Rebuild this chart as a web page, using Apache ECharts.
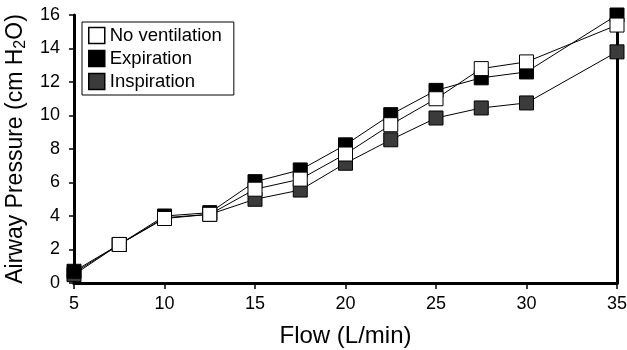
<!DOCTYPE html>
<html>
<head>
<meta charset="utf-8">
<script src="https://cdn.jsdelivr.net/npm/echarts@6/dist/echarts.min.js"></script>
<style>
  html, body { margin: 0; padding: 0; background: #fff; }
  #chart { width: 627px; height: 350px; }
</style>
</head>
<body>
<div id="chart"></div>
<script>
const flow = [5, 7.5, 10, 12.5, 15, 17.5, 20, 22.5, 25, 27.5, 30, 35]
const noVentilation = [0.6, 2.3, 3.85, 4.1, 5.6, 6.2, 7.7, 9.45, 11.0, 12.8, 13.2, 15.4]
const expiration = [0.7, 2.3, 4.0, 4.2, 6.05, 6.75, 8.25, 10.05, 11.5, 12.25, 12.6, 16.0]
const inspiration = [0.5, 2.3, 3.9, 4.1, 5.0, 5.55, 7.15, 8.55, 9.85, 10.45, 10.75, 13.8]
const xTicks = [5, 10, 15, 20, 25, 30, 35]

const font = 'Liberation Sans, Arial, sans-serif'

const chart = echarts.init(document.getElementById('chart'), null, { renderer: 'canvas' })

// white markers sit on top, except at 5 L/min where the black one is the visible one
function pts(values, hideFirst) {
  return flow.map((x, i) =>
    hideFirst && i === 0 ? { value: [x, values[i]], symbol: 'none' } : [x, values[i]]
  )
}

function line(name, values, fill, z, hideFirst) {
  return {
    name,
    type: 'line',
    data: pts(values, hideFirst),
    z,
    symbol: 'rect',
    symbolSize: 14,
    showAllSymbol: true,
    lineStyle: { color: '#000', width: 1 },
    itemStyle: { color: fill, borderColor: '#000', borderWidth: 1 },
    emphasis: { disabled: true },
  }
}

const frame = { show: true, lineStyle: { color: '#000', width: 3 } }

chart.setOption({
  animation: false,
  textStyle: { fontFamily: font },
  grid: { left: 74, right: 10, top: 15, bottom: 67, outerBoundsMode: 'none', containLabel: false },
  legend: {
    left: 82,
    top: 22,
    orient: 'vertical',
    padding: [4, 12, 4, 6],
    itemGap: 4,
    itemWidth: 16,
    itemHeight: 16,
    borderColor: '#000',
    borderWidth: 1,
    backgroundColor: '#fff',
    icon: 'rect',
    textStyle: { fontSize: 18.5, color: '#000', fontFamily: font },
    itemStyle: { borderColor: '#000', borderWidth: 1.5 },
    data: ['No ventilation', 'Expiration', 'Inspiration'],
  },
  xAxis: [
    {
      type: 'value',
      min: 5,
      max: 35,
      interval: 5,
      name: 'Flow (L/min)',
      nameLocation: 'middle',
      nameGap: 41,
      nameTextStyle: { fontSize: 24, color: '#000', fontFamily: font },
      axisLine: frame,
      axisTick: { show: true, length: 6, lineStyle: { color: '#000', width: 1.5 } },
      axisLabel: { color: '#000', fontSize: 18, margin: 12, customValues: xTicks },
      splitLine: { show: false },
    },
    {
      type: 'value',
      min: 5,
      max: 35,
      position: 'top',
      axisLine: frame,
      axisTick: { show: false },
      axisLabel: { show: false },
      splitLine: { show: false },
    },
  ],
  yAxis: [
    {
      type: 'value',
      min: 0,
      max: 16,
      interval: 2,
      name: '{a|Airway Pressure (cm H}{s|2}{a|O)}',
      nameLocation: 'middle',
      nameGap: 41,
      nameTextStyle: {
        color: '#000',
        rich: {
          a: { fontSize: 23, color: '#000', fontFamily: font },
          s: { fontSize: 16, color: '#000', fontFamily: font, verticalAlign: 'bottom', padding: [10, 0, 0, 0] },
        },
      },
      axisLine: frame,
      axisTick: { show: true, length: 5, lineStyle: { color: '#000', width: 1.5 } },
      axisLabel: { color: '#000', fontSize: 18, margin: 14 },
      splitLine: { show: false },
    },
    {
      type: 'value',
      min: 0,
      max: 16,
      position: 'right',
      axisLine: frame,
      axisTick: { show: false },
      axisLabel: { show: false },
      splitLine: { show: false },
    },
  ],
  series: [
    line('Inspiration', inspiration, '#3b3b3b', 2, false),
    line('Expiration', expiration, '#000000', 3, false),
    line('No ventilation', noVentilation, '#ffffff', 4, true),
  ],
})
</script>
</body>
</html>
